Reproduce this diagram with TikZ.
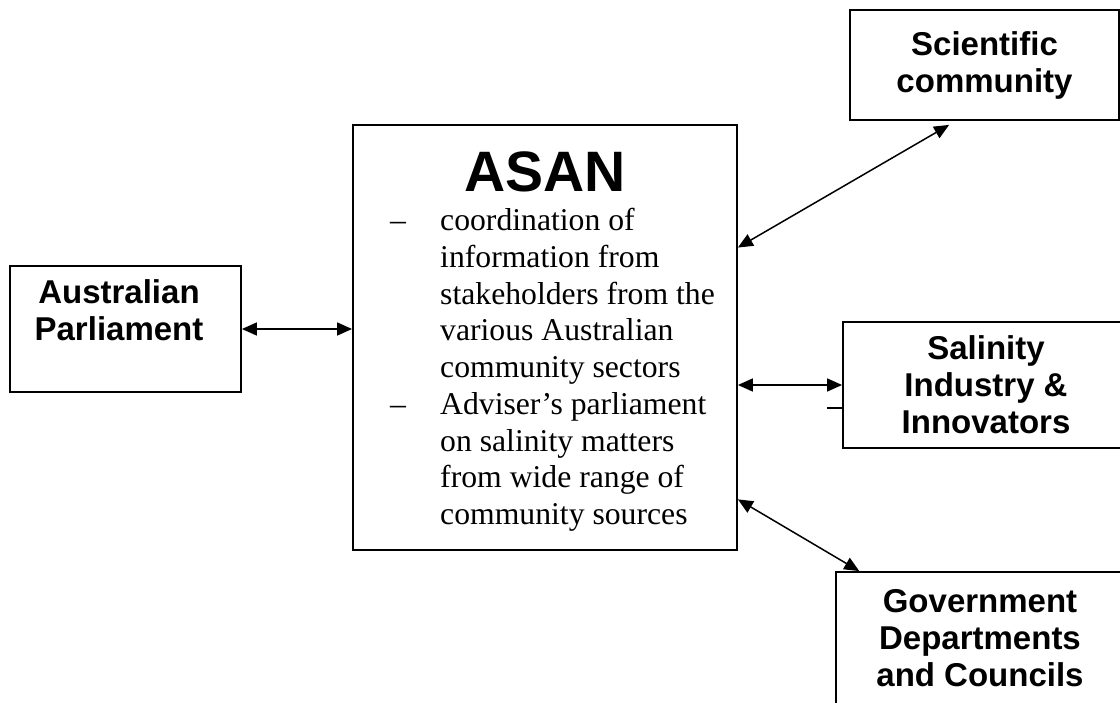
\documentclass[tikz,border=0pt]{standalone}
\usepackage{fontspec}
\setmainfont{Liberation Serif}
\newfontfamily\labelfont{Liberation Sans}
\usetikzlibrary{arrows.meta}
\tikzstyle{box}=[draw, rectangle, line width=1.8pt, inner sep=0pt]
\tikzstyle{boxtext}=[align=center, font=\labelfont\bfseries\fontsize{33}{37}\selectfont]
\tikzstyle{link}=[{Triangle[length=15pt,width=13pt]}-{Triangle[length=15pt,width=13pt]}, line width=1.5pt]

\begin{document}
\begin{tikzpicture}[x=1pt, y=-1pt]
    \clip (0,0) rectangle (1120,703);
    \fill[white] (0,0) rectangle (1120,703);

    \node[box, minimum width=231pt, minimum height=126pt] (parl) at (125.5,329) {};
    \node[boxtext, anchor=north, inner sep=0pt] (parltext) at (119,279) {Australian\\Parliament};

    \node[box, minimum width=384pt, minimum height=425pt] (asan) at (545,337.5) {};
    \node[anchor=base, inner sep=0pt, font=\labelfont\bfseries\fontsize{57}{60}\selectfont] (asantitle) at (545,192) {ASAN};
    \node[anchor=north west, inner sep=0pt, font=\fontsize{31.7}{36.7}\selectfont] (asanbody) at (390,205) {%
      \begin{tabular}{@{}p{50pt}@{}l@{}}
        – & coordination of\\
          & information from\\
          & stakeholders from the\\
          & various Australian\\
          & community sectors\\
        – & Adviser’s parliament\\
          & on salinity matters\\
          & from wide range of\\
          & community sources
      \end{tabular}};

    \node[box, boxtext, minimum width=269pt, minimum height=110pt] (sci) at (984.5,65) {Scientific\\community};
    \node[box, boxtext, minimum width=286pt, minimum height=126pt] (sal) at (986,385) {Salinity\\Industry \&\\Innovators};
    \node[box, boxtext, minimum width=288pt, minimum height=132pt] (gov) at (980,638) {Government\\Departments\\and Councils};

    \draw[link] (parl.east) -- (parl.east -| asan.west);
    \draw[link, shorten >=8pt] (asan.25) -- (sci.-117);
    \draw[link] (sal.west -| asan.east) -- (sal.west);
    \draw[link] (asan.-40) -- (gov.151);
    \draw[line width=1.5pt] ([yshift=-23pt]sal.west) -- ++(-15,0);
\end{tikzpicture}
\end{document}
